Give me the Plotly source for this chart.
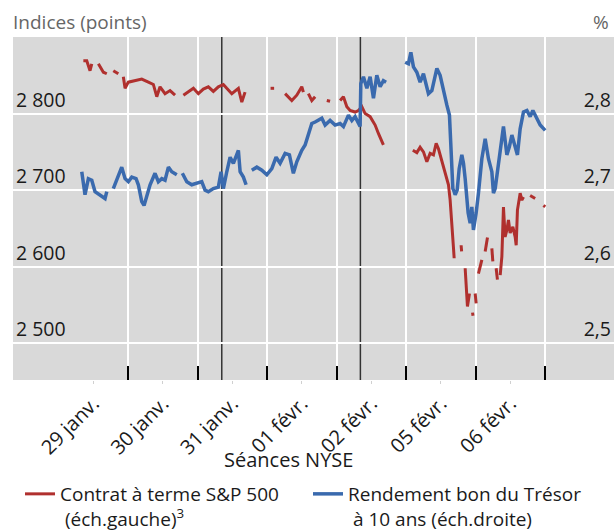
import plotly.graph_objects as go

# x in trading-session units (each NYSE session = 1 unit)
day_labels = ["29 janv.", "30 janv.", "31 janv.", "01 févr.", "02 févr.", "05 févr.", "06 févr."]
day_centers = [0.5, 1.5, 2.5, 3.5, 4.5, 5.5, 6.5]
day_bounds = [1, 2, 3, 4, 5, 6, 7]
event_lines = [2.348, 4.342]

sp_x = [0.357, 0.406, 0.453, 0.478, None, 0.573, 0.645, 0.694, None, 0.788, 0.860, None,
        0.932, 0.957, 1.004, 1.101, 1.197, 1.292, 1.364, 1.413, 1.460, 1.532, 1.604, 1.676, None,
        1.796, 1.868, 1.940, 2.011, 2.083, 2.155, 2.227, 2.299, 2.371, 2.420, 2.492, 2.587, 2.636, 2.683, None,
        3.050, 3.101, None,
        3.259, 3.355, 3.427, 3.499, 3.522, None, 3.594, 3.643, 3.691, None, 3.859, 3.906, None,
        4.050, 4.098, 4.147, 4.194, 4.266, 4.314, 4.363, 4.410, 4.482, 4.554, 4.601, 4.673, None,
        5.096, 5.154, 5.201, 5.249, 5.298, 5.345, 5.393, 5.432, 5.465, 5.514, 5.547, 5.586, 5.609,
        5.633, 5.657, 5.680, 5.691, None,
        5.791, 5.798, None, 5.849, 5.863, 5.882, 5.911, None, 5.955, 5.962, None, 5.993, 6.007, None,
        6.040, 6.089, None, 6.137, 6.170, None, 6.233, 6.247, None, 6.295, 6.313, None,
        6.353, 6.377, 6.400, 6.424, 6.449, 6.472, 6.496, 6.535, 6.568, 6.583, 6.601, 6.640, 6.665, 6.688, None,
        6.784, 6.856, None, 6.976, 7.000]
sp_y = [2869, 2869, 2856, 2865, None, 2865, 2854, 2852, None, 2856, 2852, None,
        2848, 2833, 2841, 2843, 2845, 2841, 2838, 2822, 2835, 2826, 2830, 2824, None,
        2824, 2828, 2833, 2826, 2832, 2835, 2829, 2835, 2838, 2833, 2826, 2833, 2815, 2828, None,
        2833, 2833, None,
        2826, 2817, 2824, 2835, 2828, None, 2826, 2817, 2822, None, 2817, 2816, None,
        2817, 2822, 2809, 2804, 2802, 2804, 2809, 2800, 2796, 2785, 2774, 2759, None,
        2752, 2749, 2756, 2750, 2737, 2748, 2746, 2761, 2754, 2739, 2728, 2715, 2707,
        2687, 2648, 2626, 2611, None,
        2628, 2620, None, 2598, 2574, 2548, 2565, None, 2540, 2536, None, 2565, 2552, None,
        2591, 2609, None, 2620, 2638, None, 2624, 2607, None, 2598, 2583, None,
        2589, 2613, 2678, 2639, 2648, 2661, 2644, 2652, 2639, 2628, 2674, 2696, 2687, 2691, None,
        2693, 2689, None, 2680, 2678]

ust_x = [0.334, 0.357, 0.381, 0.429, 0.478, 0.525, 0.597, 0.669, 0.694, None,
         0.788, 0.837, 0.909, 0.957, 1.004, 1.053, 1.115, 1.148, 1.197, 1.230, 1.269, 1.317,
         1.388, 1.436, 1.485, 1.532, 1.580, 1.629, 1.701, None,
         1.781, 1.845, 1.916, 1.988, 2.060, 2.108, 2.155, 2.227, 2.299, 2.338, 2.371, 2.420,
         2.468, 2.515, 2.587, 2.612, 2.659, 2.698, None,
         2.780, 2.852, 2.924, 2.996, 3.068, 3.129, 3.187, 3.259, 3.321, 3.378, 3.427, 3.499,
         3.547, 3.594, 3.643, 3.691, 3.787, 3.835, 3.906, 3.978, 4.050, 4.098, 4.170, 4.219,
         4.266, 4.338, 4.348, 4.386, 4.435, 4.482, 4.530, 4.578, 4.626, 4.673, 4.712, None,
         4.986, 5.033, 5.068, 5.105, 5.154, 5.201, 5.249, 5.321, 5.370, 5.442, 5.489, 5.537,
         5.586, 5.623, 5.643, 5.672, 5.691, 5.705, 5.734, 5.763, 5.801, 5.825, 5.849, 5.873,
         5.892, 5.921, 5.945, 5.968, 6.007, 6.040, 6.089, 6.137, 6.184, 6.233, 6.256, 6.281,
         6.305, 6.353, 6.400, 6.449, 6.486, 6.521, 6.568, 6.601, 6.640, 6.688, 6.737, 6.784,
         6.823, 6.881, 6.928, 7.000]
ust_y = [2.724, 2.707, 2.694, 2.715, 2.713, 2.698, 2.694, 2.689, 2.698, None,
         2.702, 2.713, 2.730, 2.715, 2.711, 2.717, 2.715, 2.707, 2.685, 2.680, 2.694, 2.707,
         2.722, 2.711, 2.715, 2.713, 2.730, 2.724, 2.720, None,
         2.722, 2.711, 2.707, 2.709, 2.711, 2.700, 2.698, 2.702, 2.704, 2.724, 2.702, 2.724,
         2.743, 2.735, 2.752, 2.724, 2.717, 2.707, None,
         2.726, 2.730, 2.726, 2.720, 2.728, 2.743, 2.735, 2.748, 2.746, 2.722, 2.737, 2.752,
         2.759, 2.772, 2.787, 2.789, 2.794, 2.785, 2.791, 2.785, 2.787, 2.783, 2.798, 2.791,
         2.796, 2.783, 2.839, 2.848, 2.833, 2.848, 2.820, 2.850, 2.835, 2.843, 2.841, None,
         2.867, 2.865, 2.880, 2.861, 2.854, 2.841, 2.852, 2.826, 2.830, 2.859, 2.850, 2.828,
         2.811, 2.798, 2.746, 2.702, 2.698, 2.694, 2.700, 2.728, 2.746, 2.735, 2.715, 2.691,
         2.670, 2.657, 2.678, 2.648, 2.670, 2.696, 2.741, 2.767, 2.741, 2.724, 2.696, 2.702,
         2.717, 2.754, 2.783, 2.746, 2.757, 2.772, 2.754, 2.746, 2.780, 2.802, 2.804, 2.796,
         2.804, 2.794, 2.785, 2.778]

RED = "#B0302E"
BLUE = "#3A6AAE"
FONT = "Open Sans"
TXT = "#1a1a1a"

fig = go.Figure()
fig.add_trace(go.Scatter(x=sp_x, y=sp_y, mode="lines", name="Contrat à terme S&P 500<br> (éch.gauche)<sup>3</sup>",
                         line=dict(color=RED, width=3), connectgaps=False, xaxis="x", yaxis="y",
                         legend="legend"))
fig.add_trace(go.Scatter(x=ust_x, y=ust_y, mode="lines", name="Rendement bon du Trésor<br> à 10 ans (éch.droite)",
                         line=dict(color=BLUE, width=3.5), connectgaps=False, xaxis="x", yaxis="y2",
                         legend="legend2"))
# invisible trace to activate the category-label axis
fig.add_trace(go.Scatter(x=[day_centers[0]], y=[2800], mode="markers", marker=dict(opacity=0),
                         showlegend=False, hoverinfo="skip", xaxis="x2", yaxis="y"))

xr = [-0.655, 7.99]
for xv in event_lines:
    fig.add_shape(type="line", xref="x", yref="paper", x0=xv, x1=xv, y0=0, y1=1,
                  line=dict(color="#333333", width=1.5), layer="between")

leg_common = dict(orientation="h", xref="container", yref="container", xanchor="left",
                  yanchor="top", valign="top", font=dict(size=19, color=TXT),
                  bgcolor="rgba(0,0,0,0)")

fig.update_layout(
    width=614, height=530,
    margin=dict(l=13, r=0, t=37, b=150, autoexpand=False),
    paper_bgcolor="white", plot_bgcolor="#D9D9D9",
    font=dict(family=FONT, size=20, color=TXT),
    separators=", ",
    showlegend=True,
    legend=dict(x=20 / 614, y=1 - 475 / 530, **leg_common),
    legend2=dict(x=308 / 614, y=1 - 475 / 530, **leg_common),
    xaxis=dict(range=xr, tickvals=day_bounds, showticklabels=False, ticks="inside",
               ticklen=14, tickcolor="black", tickwidth=1.5, showgrid=True,
               gridcolor="white", gridwidth=1.5, zeroline=False, showline=False, automargin=False),
    xaxis2=dict(range=xr, overlaying="x", anchor="y", side="bottom", tickvals=day_centers,
                ticktext=day_labels, tickangle=-45, ticks="outside", ticklen=3,
                tickcolor="#d0d0d0", showgrid=False, zeroline=False, showline=False,
                automargin=False, tickfont=dict(size=20, color=TXT)),
    yaxis=dict(range=[2452, 2900], tickvals=[2500, 2600, 2700, 2800], tickformat=",d",
               ticklabelposition="inside top", showgrid=True, gridcolor="white",
               gridwidth=1.5, zeroline=False, ticks="", automargin=False,
               tickfont=dict(size=19.5, color=TXT)),
    yaxis2=dict(range=[2.452, 2.9], overlaying="y", side="right", tickvals=[2.5, 2.6, 2.7, 2.8],
                tickformat=".1f", ticklabelposition="inside top", showgrid=False,
                zeroline=False, ticks="", automargin=False,
                tickfont=dict(size=19.5, color=TXT)),
    annotations=[
        dict(text="Indices (points)", xref="paper", yref="paper", x=-0.003, y=1.0, yshift=15,
             xanchor="left", yanchor="middle", showarrow=False, font=dict(size=19, color="#666666")),
        dict(text="%", xref="paper", yref="paper", x=0.995, y=1.0, yshift=15,
             xanchor="right", yanchor="middle", showarrow=False, font=dict(size=19, color="#666666")),
        dict(text="Séances NYSE", xref="paper", yref="paper", x=(288 - 13) / 601, y=-80 / 343,
             xanchor="center", yanchor="middle", showarrow=False, font=dict(size=20, color=TXT)),
    ],
)

fig.write_html("out.html", config={"displayModeBar": False},
               post_script="document.body.style.margin='0';document.body.style.overflow='hidden';")
